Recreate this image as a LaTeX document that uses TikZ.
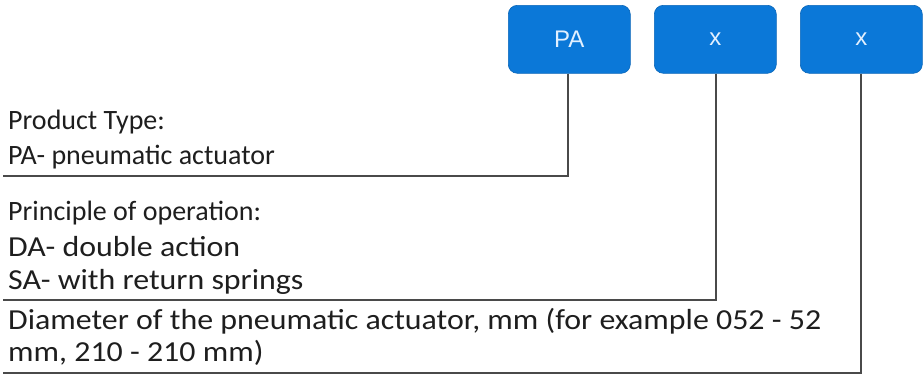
\documentclass[tikz,border=0pt]{standalone}
\usepackage{fontspec}
\setmainfont{Carlito}
\newfontfamily\widefont{Carlito}[FakeStretch=1.1]
\newfontfamily\boxfont{Liberation Sans}
\definecolor{boxblue}{HTML}{0B78D8}
\definecolor{boxtext}{HTML}{E2F0FF}
\definecolor{rulegray}{HTML}{4A4A4A}
\definecolor{txt}{HTML}{1E1E1E}
\begin{document}
\begin{tikzpicture}[x=1pt,y=-1pt,
  codebox/.style={draw=boxblue!85!black,line width=0.6pt,fill=boxblue,rounded corners=9pt,
    minimum width=122pt,minimum height=68pt,inner sep=0pt,anchor=north west,
    text=boxtext,font=\boxfont\fontsize{24}{28}\selectfont},
  desc/.style={anchor=base west,inner sep=0pt,text=txt,font=\fontsize{28}{33}\selectfont},
  descw/.style={anchor=base west,inner sep=0pt,text=txt,font=\widefont\fontsize{29}{34}\selectfont},
  rule/.style={draw=rulegray,line width=1.2pt}]
\useasboundingbox (0,0) rectangle (924,375);
\node[codebox] (pa) at (508,5) {PA};
\node[codebox] (x1) at (654,5) {x};
\node[codebox] (x2) at (800,5) {x};
\node[desc] (t1) at (8,129) {Product Type:};
\node[desc] (t2) at (8,164) {PA- pneumatic actuator};
\node[desc] (t3) at (8,220) {Principle of operation:};
\node[descw] (t4) at (8,256) {DA- double action};
\node[descw] (t5) at (8,289) {SA- with return springs};
\node[descw] (t6) at (8,329) {Diameter of the pneumatic actuator, mm (for example 052 - 52};
\node[descw] (t7) at (8,361) {mm, 210 - 210 mm)};
\coordinate (c1) at (568,176);
\coordinate (e1) at (3,176);
\coordinate (c2) at (716,300);
\coordinate (e2) at (3,300);
\coordinate (c3) at (861,373);
\coordinate (e3) at (3,373);
\draw[rule] (pa.south -| c1) -- (c1) -- (e1);
\draw[rule] (x1.south -| c2) -- (c2) -- (e2);
\draw[rule] (x2.south -| c3) -- (c3) -- (e3);
\end{tikzpicture}
\end{document}
